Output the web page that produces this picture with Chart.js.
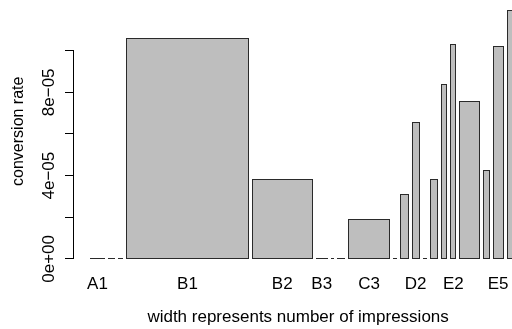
<!DOCTYPE html>
<html>
<head>
<meta charset="utf-8">
<script src="https://cdn.jsdelivr.net/npm/chart.js@4.4.1/dist/chart.umd.min.js"></script>
<style>
  html, body { margin: 0; padding: 0; background: #fff; overflow: hidden; width: 512px; height: 329px; }
  #wrap { position: absolute; left: 0; top: 0; width: 530px; height: 329px; }
</style>
</head>
<body>
<div id="wrap"><canvas id="c" width="530" height="329"></canvas></div>
<script>
// ---- data ----
const categories = ['A1','A2','A3','B1','B2','B3','C1','C2','C3','C4',
                    'D1','D2','D3','D4','E1','E2','E3','E4','E5','E6'];
// bar widths = number of impressions (relative units)
const impressions = [15.3, 7.0, 5.4, 123.0, 61.6, 12.0, 3.0, 8.7, 42.0, 3.7,
                     9.0, 8.3, 4.7, 7.3, 6.7, 6.0, 21.0, 6.6, 11.0, 16.0];
const conversionRate = [0, 0, 0, 1.062e-4, 3.83e-5, 0, 0, 0, 1.91e-5, 0,
                        3.12e-5, 6.56e-5, 0, 3.83e-5, 8.40e-5, 1.031e-4, 7.60e-5, 4.27e-5, 1.024e-4, 1.194e-4];
const barSpace = 3.0;
const xLimits = [-13, 438];
const yLimits = [0, 1.226e-4];
const yTickValues = [0, 2e-5, 4e-5, 6e-5, 8e-5, 1e-4];
const yTickLabels = ['0e+00', '', '4e\u221205', '', '8e\u221205', ''];
const xTickLabels = ['A1','','','B1','B2','B3','','','C3','',
                     '','D2','','','','E2','','','E5',''];
const xTitle = 'width represents number of impressions';
const yTitle = 'conversion rate';

// ---- bars with variable widths (R barplot style) ----
const bars = [];
let cursor = barSpace;
for (let i = 0; i < categories.length; i++) {
  const x0 = cursor, x1 = cursor + impressions[i];
  bars.push({ x: (x0 + x1) / 2, y: conversionRate[i], x0: x0, x1: x1, name: categories[i] });
  cursor = x1 + barSpace;
}

class VariableWidthBar extends Chart.BarController {
  _calculateBarIndexPixels(index) {
    const scale = this._cachedMeta.iScale;
    const raw = this.getDataset().data[index];
    const a = scale.getPixelForValue(raw.x0);
    const b = scale.getPixelForValue(raw.x1);
    const base = Math.min(a, b), head = Math.max(a, b);
    return { base: base, head: head, center: (a + b) / 2, size: head - base };
  }
  updateElements(elems, start, count, mode) {
    super.updateElements(elems, start, count, mode);
    const vScale = this._cachedMeta.vScale;
    const zero = Math.round(vScale.getPixelForValue(0));
    // snap bar edges to whole pixels for crisp outlines (R draws zero bars as a line)
    for (let i = start; i < start + count; i++) {
      const el = elems[i];
      if (!el) continue;
      const l = Math.round(el.x - el.width / 2);
      const r = Math.round(el.x + el.width / 2);
      el.x = (l + r) / 2;
      el.width = r - l;
      let y = Math.round(el.y);
      if (zero - y < 1) y = zero - 1;
      el.y = y;
      el.base = zero;
      el.height = zero - y;
    }
  }
}
VariableWidthBar.id = 'variableWidthBar';
VariableWidthBar.defaults = Chart.BarController.defaults;
VariableWidthBar.overrides = Chart.BarController.overrides;
Chart.register(VariableWidthBar);

const axisLinePlugin = {
  id: 'rAxisLine',
  afterDraw(chart) {
    const ys = chart.scales.y;
    const ctx = chart.ctx;
    const x = Math.round(ys.right) - 0.5;
    const bot = ys.getPixelForValue(yTickValues[0]);
    const top = ys.getPixelForValue(yTickValues[yTickValues.length - 1]);
    ctx.save();
    ctx.strokeStyle = '#000';
    ctx.lineWidth = 1;
    ctx.beginPath();
    ctx.moveTo(x, Math.round(bot - 0.5) + 1);
    ctx.lineTo(x, Math.round(top - 0.5));
    ctx.stroke();
    ctx.restore();
  }
};

const FAMILY = "'Liberation Sans', Arial, Helvetica, sans-serif";
const FONT = { family: FAMILY, size: 17 };
const YTITLE_FONT = { family: FAMILY, size: 16 };

new Chart(document.getElementById('c'), {
  type: 'variableWidthBar',
  data: {
    datasets: [{
      data: bars,
      backgroundColor: '#bebebe',
      borderColor: '#2a2a2a',
      borderWidth: 1,
      borderSkipped: false,
      minBarLength: 1,
      inflateAmount: 0
    }]
  },
  options: {
    responsive: false,
    animation: false,
    devicePixelRatio: 1,
    layout: { padding: { left: 0, right: 5, top: 3.6, bottom: 0 } },
    plugins: { legend: { display: false }, tooltip: { enabled: false } },
    scales: {
      x: {
        type: 'linear',
        min: xLimits[0],
        max: xLimits[1],
        offset: false,
        grid: { display: false, drawTicks: false },
        border: { display: false },
        afterBuildTicks: s => { s.ticks = bars.map(b => ({ value: b.x })); },
        afterFit: s => { s.height = 70.1; },
        ticks: {
          autoSkip: false, maxRotation: 0, minRotation: 0, padding: 15.4,
          font: FONT, color: '#000',
          callback: (v, i) => xTickLabels[i]
        },
        title: { display: true, text: xTitle, font: FONT, color: '#000', padding: { top: 0, bottom: 1.2 } }
      },
      y: {
        type: 'linear',
        min: yLimits[0],
        max: yLimits[1],
        grid: { display: true, drawOnChartArea: false, drawTicks: true, tickLength: 9, color: '#000', lineWidth: 1 },
        border: { display: false },
        afterBuildTicks: s => { s.ticks = yTickValues.map(v => ({ value: v })); },
        afterFit: s => { s.width = 74; },
        ticks: {
          minRotation: 90, maxRotation: 90, crossAlign: 'center', padding: -8,
          font: FONT, color: '#000',
          callback: (v, i) => yTickLabels[i]
        },
        title: { display: true, text: yTitle, font: YTITLE_FONT, color: '#000', padding: { top: 8.8, bottom: 0 } }
      }
    }
  },
  plugins: [axisLinePlugin]
});
</script>
</body>
</html>
